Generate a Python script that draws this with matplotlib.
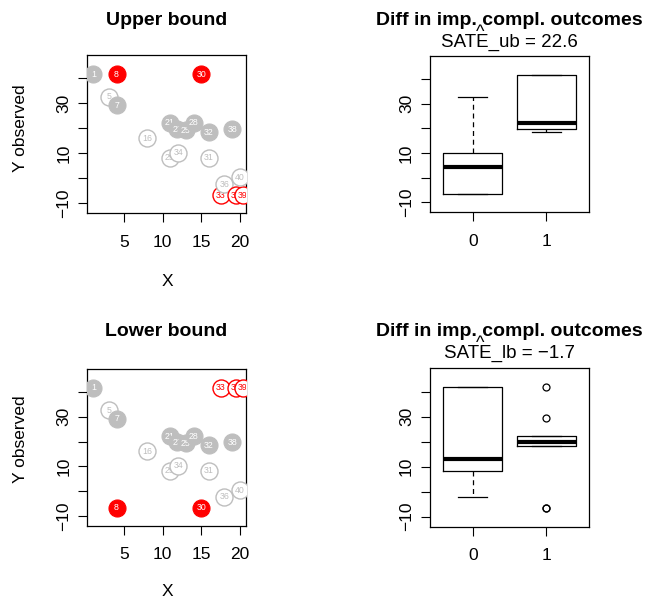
import matplotlib
matplotlib.use('Agg')
import matplotlib.pyplot as plt
import numpy as np

plt.rcParams['font.family'] = ['Liberation Sans', 'DejaVu Sans']

# units: id, covariate X, treatment flag, observed outcome (nan = missing)
ids = [1, 5, 7, 8, 16, 21, 23, 25, 28, 29, 30, 31, 32, 33, 34, 36, 37, 38, 39, 40]
x_vals = [1, 3, 4, 4, 8, 10.9, 11.9, 13, 14, 10.9, 15, 16, 16, 17.5, 12, 18, 19.5, 19, 20.4, 20]
treated = [1, 0, 1, 1, 0, 1, 1, 1, 1, 0, 1, 0, 1, 0, 0, 0, 0, 1, 0, 0]
y_obs = [41.7, 32.6, 29.3, np.nan, 16, 22.2, 19.7, 19.3, 22.2, 8.2, np.nan, 8.2,
         18.4, np.nan, 10.2, -2.3, np.nan, 19.7, np.nan, 0.4]
y_max_imp = 41.7
y_min_imp = -6.7
sate_ub = 22.6
sate_lb = -1.7

ids = np.array(ids)
x_vals = np.array(x_vals)
treated = np.array(treated)
y_obs = np.array(y_obs)
missing = np.isnan(y_obs)

# upper bound: missing treated -> max, missing control -> min; lower bound the reverse
y_ub = np.where(missing, np.where(treated == 1, y_max_imp, y_min_imp), y_obs)
y_lb = np.where(missing, np.where(treated == 1, y_min_imp, y_max_imp), y_obs)

W, H = 645, 608
GREY = '#BEBEBE'
RED = '#FF0000'
TICK_FS = 12.5
TITLE_FS = 14


def box(l, t, r, b):
    return [l / W, 1 - b / H, (r - l) / W, (b - t) / H]


def fy(p):
    return 1 - p / H


def fivenum(v):
    v = np.sort(v)
    n = len(v)
    n4 = np.floor((n + 3) / 2) / 2
    d = np.array([1, n4, (n + 1) / 2, n + 1 - n4, n]) - 1
    return 0.5 * (v[np.floor(d).astype(int)] + v[np.ceil(d).astype(int)])


def r_stats(v):
    lo, q1, med, q3, hi = fivenum(v)
    iqr = q3 - q1
    inside = v[(v >= q1 - 1.5 * iqr) & (v <= q3 + 1.5 * iqr)]
    out = v[(v < q1 - 1.5 * iqr) | (v > q3 + 1.5 * iqr)]
    return dict(med=med, q1=q1, q3=q3, whislo=inside.min(), whishi=inside.max(), fliers=out)


def style(ax):
    for s in ax.spines.values():
        s.set_linewidth(0.9)
    ax.tick_params(direction='out', length=6.5, width=0.8, labelsize=TICK_FS)
    ax.tick_params(axis='x', pad=9)
    ax.tick_params(axis='y', pad=5)
    ax.set_ylim(-14, 49.3)
    ax.set_yticks([-10, 0, 10, 20, 30, 40])
    ax.set_yticklabels(['\u221210', '', '10', '', '30', ''], rotation=90, va='center')


def scatter_panel(ax, y):
    for i in range(len(ids)):
        col = RED if missing[i] else GREY
        if treated[i] == 1:
            ax.scatter(x_vals[i], y[i], s=150, c=col, edgecolors=col, linewidths=0.8, zorder=3 + i)
            tcol = 'white'
        else:
            ax.scatter(x_vals[i], y[i], s=150, facecolors='white', edgecolors=col, linewidths=1.0, zorder=3 + i)
            tcol = col
        ax.text(x_vals[i], y[i], str(ids[i]), fontsize=6.3, color=tcol, ha='center',
                va='center', zorder=3 + i, clip_on=True)
    ax.set_xlim(0.2, 20.77)
    ax.set_xticks([5, 10, 15, 20])
    style(ax)


def box_panel(ax, y):
    stats = [r_stats(y[treated == 0]), r_stats(y[treated == 1])]
    ax.bxp(stats, positions=[1, 2], widths=0.8,
           boxprops=dict(color='black', linewidth=0.9),
           medianprops=dict(color='black', linewidth=3),
           whiskerprops=dict(color='black', linewidth=0.9, linestyle=(0, (4, 3))),
           capprops=dict(color='black', linewidth=0.9),
           flierprops=dict(marker='o', markersize=5, markerfacecolor='none',
                           markeredgecolor='black', markeredgewidth=0.9))
    ax.set_xlim(0.42, 2.58)
    ax.set_xticks([1, 2])
    ax.set_xticklabels(['0', '1'])
    style(ax)


fig = plt.figure(figsize=(W / 100, H / 100), dpi=100)

rows = [
    (55, 213.3, 56, 212.3, 'Upper bound', y_ub, 'SATE_ub', sate_ub, 0),
    (369, 525.7, 368.3, 526.7, 'Lower bound', y_lb, 'SATE_lb', sate_lb, 311),
]

for t1, b1, t2, b2, title, y, sate_name, sate, off in rows:
    ax1 = fig.add_axes(box(87.3, t1, 245.7, b1))
    scatter_panel(ax1, y)
    ax2 = fig.add_axes(box(430, t2, 589, b2))
    box_panel(ax2, y)

    fig.text(166.5 / W, fy(25 + off), title, fontsize=TITLE_FS, fontweight='bold',
             ha='center', va='baseline')
    fig.text(509.5 / W, fy(25 + off), 'Diff in imp. compl. outcomes', fontsize=TITLE_FS,
             fontweight='bold', ha='center', va='baseline')
    sub = f'{sate_name} = {sate:.1f}'.replace('-', '\u2212')
    fig.text(509.5 / W, fy(47 + off), sub, fontsize=13.5, ha='center', va='baseline')
    fig.text(480.5 / W, fy(37 + off), '^', fontsize=13, ha='center', va='baseline')
    fig.text(21 / W, fy(128 + off), 'Y observed', fontsize=TICK_FS, rotation=90,
             ha='center', va='center')
    fig.text(167 / W, fy(281 + off), 'X', fontsize=TICK_FS, ha='center', va='center')

fig.savefig('out.png', dpi=100)
